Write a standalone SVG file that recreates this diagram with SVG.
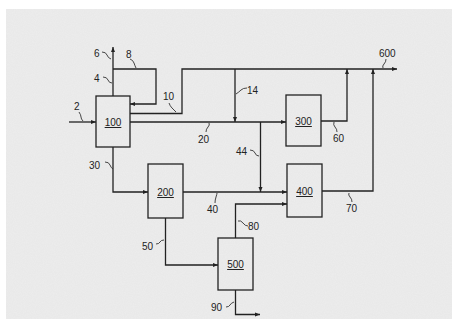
<svg xmlns="http://www.w3.org/2000/svg" width="454" height="322" viewBox="0 0 454 322">
<defs>
<marker id="ah" viewBox="0 0 10 10" refX="10" refY="5" markerWidth="5" markerHeight="5" orient="auto" markerUnits="userSpaceOnUse">
<path d="M0,1 L10,5 L0,9 Z" fill="#222"/>
</marker>
<filter id="noise" x="0" y="0" width="100%" height="100%">
<feTurbulence type="fractalNoise" baseFrequency="0.9" numOctaves="2" seed="3" result="n"/>
<feColorMatrix type="matrix" values="0 0 0 0 0.86  0 0 0 0 0.86  0 0 0 0 0.86  0 0 0 -1.1 0.75" />
</filter>
</defs>
<style>
.box{fill:none;stroke:#222;stroke-width:1.3}
.ln{fill:none;stroke:#222;stroke-width:1.3}
.ld{fill:none;stroke:#333;stroke-width:0.9}
.t{font-family:"Liberation Sans",Arial,sans-serif;font-size:10px;fill:#222}
.bl{font-family:"Liberation Sans",Arial,sans-serif;font-size:10px;fill:#222;text-anchor:middle;text-decoration:underline}
</style>
<rect x="0" y="0" width="454" height="322" fill="#ffffff"/>
<rect x="6" y="9" width="446" height="310" fill="#e9e9e9"/>
<rect x="6" y="9" width="446" height="310" fill="#e9e9e9" filter="url(#noise)"/>
<g id="connectors">
<path class="ln" d="M113,96 V47" marker-end="url(#ah)"/>
<path class="ln" d="M113,69 H156 V104 H130" marker-end="url(#ah)"/>
<path class="ln" d="M130,113.5 H182 V69 H397" marker-end="url(#ah)"/>
<path class="ln" d="M235,69 V122" marker-end="url(#ah)"/>
<path class="ln" d="M130,122 H286" marker-end="url(#ah)"/>
<path class="ln" d="M69,122 H96" marker-end="url(#ah)"/>
<path class="ln" d="M260.5,122 V192" marker-end="url(#ah)"/>
<path class="ln" d="M321,121 H347 V69" marker-end="url(#ah)"/>
<path class="ln" d="M322,191 H373 V69" marker-end="url(#ah)"/>
<path class="ln" d="M113,147 V192 H148" marker-end="url(#ah)"/>
<path class="ln" d="M183,192 H287" marker-end="url(#ah)"/>
<path class="ln" d="M235.5,238 V204 H287" marker-end="url(#ah)"/>
<path class="ln" d="M165.5,218 V265 H218" marker-end="url(#ah)"/>
<path class="ln" d="M235.5,290 V314.5 H260" marker-end="url(#ah)"/>
</g>
<g id="leaders">
<path class="ld" d="M102,52 q4,0 5,3 t4,4"/>
<path class="ld" d="M130,59 q3,1 4,4 t2,5"/>
<path class="ld" d="M103,77 q4,0 5,3 t4,3"/>
<path class="ld" d="M79,112 q2,3 2,5 t2,4"/>
<path class="ld" d="M169,103 q1,3 3,5 t4,4"/>
<path class="ld" d="M247,88 q-4,0 -6,2 t-5,4"/>
<path class="ld" d="M206,132 q0,-3 2,-5 t1,-4"/>
<path class="ld" d="M250,150 q4,0 5,3 t4,3"/>
<path class="ld" d="M337,132 q0,-3 -2,-5 t-1,-5"/>
<path class="ld" d="M386,59 q0,3 -2,5 t-1,4"/>
<path class="ld" d="M105,162 q4,0 5,3 t3,4"/>
<path class="ld" d="M215,203 q0,-3 1,-6 t1,-4"/>
<path class="ld" d="M352,202 q0,-3 -2,-5 t-1,-4"/>
<path class="ld" d="M248,226 q-3,0 -5,-3 t-5,-2"/>
<path class="ld" d="M156,244 q3,0 4,-2 t4,-2"/>
<path class="ld" d="M226,307 q3,0 4,-2 t4,-3"/>
</g>
<g id="labels">
<text class="t" x="94" y="57">6</text>
<text class="t" x="126" y="58">8</text>
<text class="t" x="94" y="82">4</text>
<text class="t" x="74" y="110">2</text>
<text class="t" x="163" y="100">10</text>
<text class="t" x="247" y="94">14</text>
<text class="t" x="198" y="143">20</text>
<text class="t" x="236" y="155">44</text>
<text class="t" x="333" y="142">60</text>
<text class="t" x="379" y="57">600</text>
<text class="t" x="89" y="169">30</text>
<text class="t" x="207" y="213">40</text>
<text class="t" x="346" y="212">70</text>
<text class="t" x="248" y="230">80</text>
<text class="t" x="142" y="250">50</text>
<text class="t" x="211" y="311">90</text>
</g>
<g id="n100"><rect class="box" x="96" y="96" width="34" height="51"/><text class="bl" x="113" y="126">100</text></g>
<g id="n200"><rect class="box" x="148" y="164" width="35" height="54"/><text class="bl" x="165.5" y="196">200</text></g>
<g id="n300"><rect class="box" x="286" y="95" width="35" height="51"/><text class="bl" x="303.5" y="125">300</text></g>
<g id="n400"><rect class="box" x="287" y="164" width="35" height="53"/><text class="bl" x="304.5" y="195">400</text></g>
<g id="n500"><rect class="box" x="218" y="238" width="35" height="52"/><text class="bl" x="235.5" y="268">500</text></g>
</svg>
